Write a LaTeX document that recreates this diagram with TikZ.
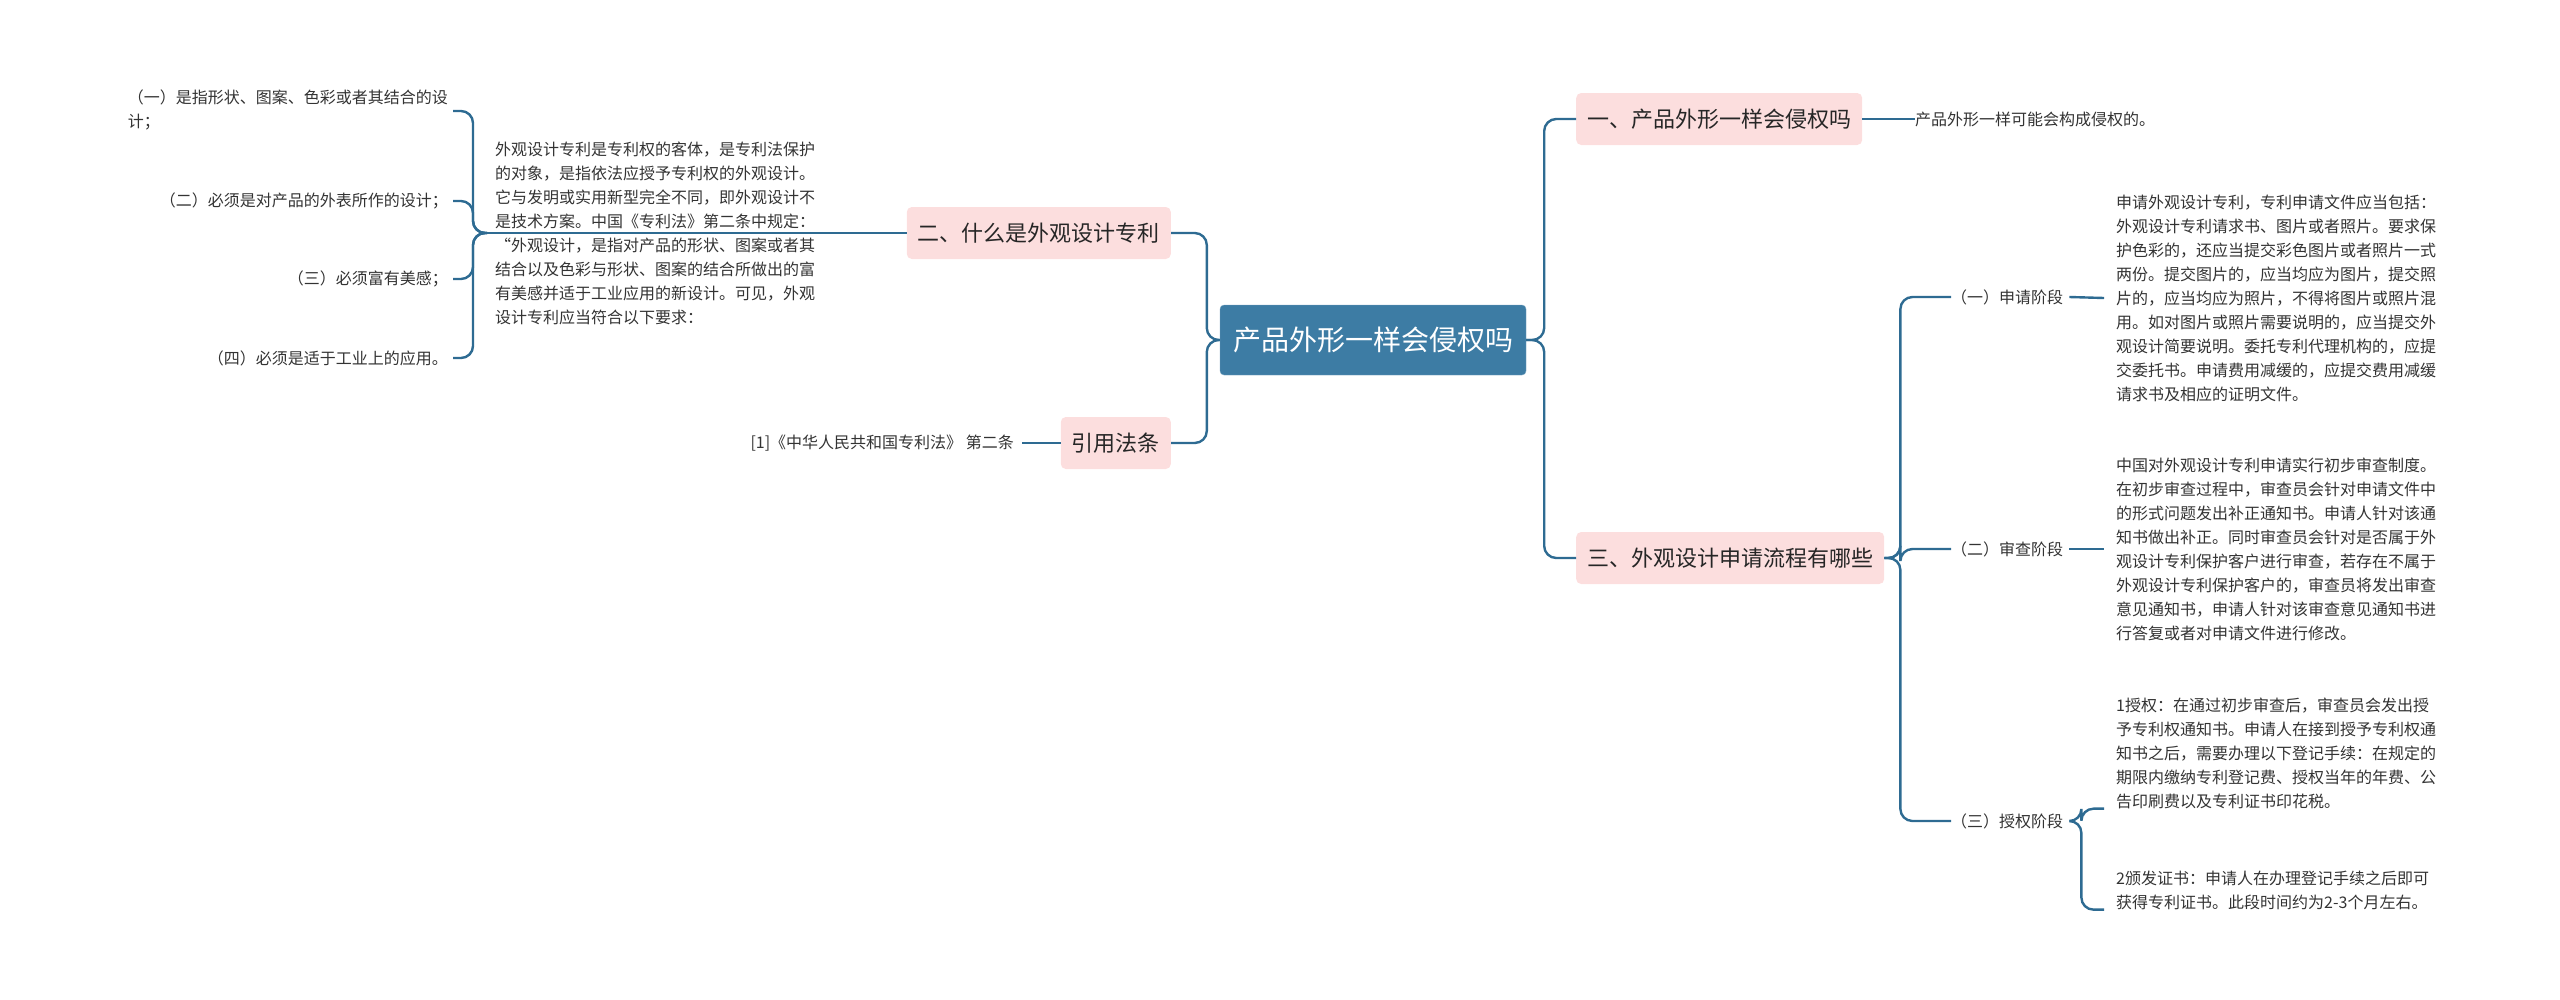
\documentclass[tikz,border=0pt]{standalone}
\usepackage{fontspec}
\setmainfont{Noto Sans CJK SC}
\usetikzlibrary{positioning}
\definecolor{rootblue}{HTML}{3D7CA4}
\definecolor{linkblue}{HTML}{2E6B92}
\definecolor{pinkfill}{HTML}{FCDEDE}
\begin{document}
\begin{tikzpicture}[x=1pt,y=-1pt]
	\tikzstyle{every node}+=[inner sep=0pt]
	\tikzstyle{rootbox}=[fill=rootblue,draw=rootblue!70!white,rounded corners=4pt,text=white,font=\fontsize{28}{30}\selectfont,inner xsep=13pt,minimum height=70pt]
	\tikzstyle{topic}=[fill=pinkfill,rounded corners=5pt,text=black!85,font=\fontsize{22}{24}\selectfont,inner xsep=11pt,minimum height=52pt]
	\tikzstyle{note}=[text=black!80,font=\fontsize{16}{24}\selectfont,align=left]
	\tikzstyle{link}=[draw=linkblue,line width=2.4pt,rounded corners=12pt]
	\useasboundingbox (0,0) rectangle (2560,999);
	\node [rootbox] (root) at (1373,340) {产品外形一样会侵权吗};
	% right side
	\node [topic,anchor=west] (t1) at (1576,119) {一、产品外形一样会侵权吗};
	\node [note,anchor=west] (t1n) at (1915,119) {产品外形一样可能会构成侵权的。};
	\node [topic,anchor=west] (t3) at (1576,558) {三、外观设计申请流程有哪些};
	\node [note,anchor=west] (s1) at (1951,297) {（一）申请阶段};
	\node [note,anchor=west] (s2) at (1951,549) {（二）审查阶段};
	\node [note,anchor=west] (s3) at (1951,821) {（三）授权阶段};
	\node [note,anchor=west] (s1n) at (2116,298) {申请外观设计专利，专利申请文件应当包括：\\外观设计专利请求书、图片或者照片。要求保\\护色彩的，还应当提交彩色图片或者照片一式\\两份。提交图片的，应当均应为图片，提交照\\片的，应当均应为照片，不得将图片或照片混\\用。如对图片或照片需要说明的，应当提交外\\观设计简要说明。委托专利代理机构的，应提\\交委托书。申请费用减缓的，应提交费用减缓\\请求书及相应的证明文件。};
	\node [note,anchor=west] (s2n) at (2116,549) {中国对外观设计专利申请实行初步审查制度。\\在初步审查过程中，审查员会针对申请文件中\\的形式问题发出补正通知书。申请人针对该通\\知书做出补正。同时审查员会针对是否属于外\\观设计专利保护客户进行审查，若存在不属于\\外观设计专利保护客户的，审查员将发出审查\\意见通知书，申请人针对该审查意见通知书进\\行答复或者对申请文件进行修改。};
	\node [note,anchor=west] (s3a) at (2116,753) {1授权：在通过初步审查后，审查员会发出授\\予专利权通知书。申请人在接到授予专利权通\\知书之后，需要办理以下登记手续：在规定的\\期限内缴纳专利登记费、授权当年的年费、公\\告印刷费以及专利证书印花税。};
	\node [note,anchor=west] (s3b) at (2116,890) {2颁发证书：申请人在办理登记手续之后即可\\获得专利证书。此段时间约为2-3个月左右。};
	% left side
	\node [topic,anchor=east] (t2) at (1171,233) {二、什么是外观设计专利};
	\node [topic,anchor=east] (t4) at (1171,443) {引用法条};
	\node [note,anchor=east] (t4n) at (1014,443) {[1]《中华人民共和国专利法》 第二条};
	\node [note,anchor=west] (t2n) at (495,233) {外观设计专利是专利权的客体，是专利法保护\\的对象，是指依法应授予专利权的外观设计。\\它与发明或实用新型完全不同，即外观设计不\\是技术方案。中国《专利法》第二条中规定：\\“外观设计，是指对产品的形状、图案或者其\\结合以及色彩与形状、图案的结合所做出的富\\有美感并适于工业应用的新设计。可见，外观\\设计专利应当符合以下要求：};
	\node [note,anchor=east,align=left] (i1) at (448,110) {（一）是指形状、图案、色彩或者其结合的设\\计；};
	\node [note,anchor=east] (i2) at (448,201) {（二）必须是对产品的外表所作的设计；};
	\node [note,anchor=east] (i3) at (448,279) {（三）必须富有美感；};
	\node [note,anchor=east] (i4) at (448,358) {（四）必须是适于工业上的应用。};
	% connectors
	\foreach \c in {t1,t3}
		\draw [link] (root.east) -- ++(18,0) |- (\c.west);
	\foreach \c in {t2,t4}
		\draw [link] (root.west) -- ++(-13,0) |- (\c.east);
	\draw [link] (t1.east) -- (t1n.west);
	\foreach \c in {s1,s2,s3}
		\draw [link] (t3.east) -- ++(16,0) |- (\c.west);
	\draw [link] (s1.east) ++(6,0) -- ([xshift=-12pt]s1n.west);
	\draw [link] (s2.east) ++(6,0) -- ([xshift=-12pt]s2n.west);
	\foreach \c in {s3a,s3b}
		\draw [link] (s3.east) ++(6,0) -- ++(12,0) |- ([xshift=-12pt]\c.west |- \c.south);
	\draw [link] (t4.west) -- ([xshift=8pt]t4n.east);
	\draw [link] (t2.west) -- ([xshift=-8pt]t2n.west);
	\foreach \c in {i2,i3,i4}
		\draw [link] ([xshift=-8pt]t2n.west) -- ++(-14,0) |- ([xshift=5pt]\c.east);
	\draw [link] ([xshift=-8pt]t2n.west) -- ++(-14,0) |- (453,111);
\end{tikzpicture}
\end{document}
